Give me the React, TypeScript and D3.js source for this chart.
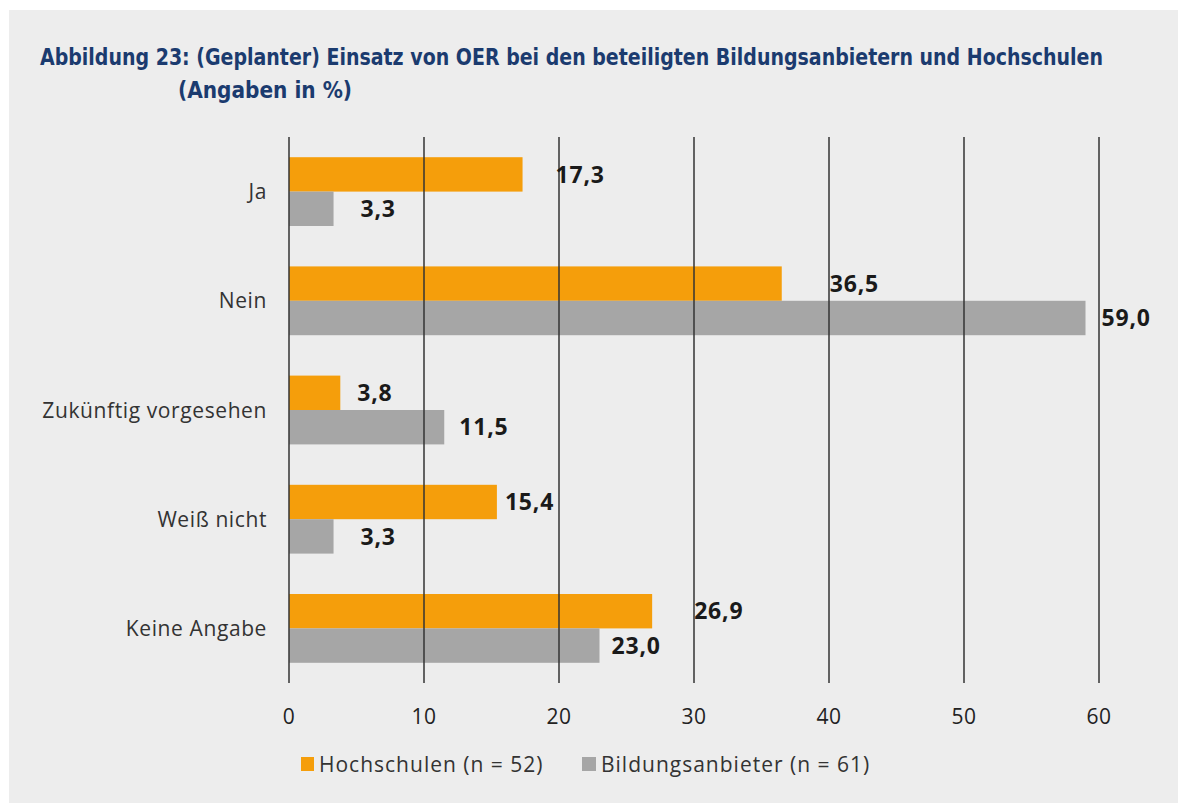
import React from "react";
import * as d3 from "d3";

const categories = ["Ja", "Nein", "Zukünftig vorgesehen", "Weiß nicht", "Keine Angabe"];
const hochschulen = [17.3, 36.5, 3.8, 15.4, 26.9];
const bildungsanbieter = [3.3, 59.0, 11.5, 3.3, 23.0];
const xTicks = [0, 10, 20, 30, 40, 50, 60];
const seriesNames = ["Hochschulen (n = 52)", "Bildungsanbieter (n = 61)"];
const titleLine1 = "Abbildung 23: (Geplanter) Einsatz von OER bei den beteiligten Bildungsanbietern und Hochschulen";
const titleLine2 = "(Angaben in %)";

// label offsets in px (styling, mimicking the original label placement)
const offH = [33, 48, 17, 8, 42];
const offB = [27, 16, 15, 27, 12];

const W = 1178;
const H = 803;
const M = { left: 289, right: 1099, top: 137, bottom: 683 };
const ORANGE = "#f59e0b";
const GRAY = "#a6a6a6";
const BG = "#ededed";
const NAVY = "#1b3b6f";
const fmt = (v: number) => v.toFixed(1).replace(".", ",");

export default function App() {
  const x = d3.scaleLinear().domain([0, 60]).range([M.left, M.right]);
  const y = d3.scaleBand<string>().domain(categories).range([M.top, M.bottom]).paddingInner(0).paddingOuter(0);
  const step = y.step();
  const barH = step * 0.315;
  const series = [
    { name: seriesNames[0], values: hochschulen, color: ORANGE, off: offH },
    { name: seriesNames[1], values: bildungsanbieter, color: GRAY, off: offB },
  ];
  const sans = "'Open Sans', 'Noto Sans', sans-serif";
  return (
    <svg width={W} height={H} style={{ position: "absolute", left: 0, top: 0 }}>
      <rect x={0} y={0} width={W} height={H} fill="#ffffff" />
      <rect x={9} y={10} width={W - 9} height={H - 10} fill={BG} />
      <g fontFamily="'DejaVu Sans', sans-serif" fontStretch="condensed" fontWeight="bold" fill={NAVY} fontSize={23}>
        <text x={40} y={65} textLength={1063} lengthAdjust="spacingAndGlyphs">{titleLine1}</text>
        <text x={178} y={98} textLength={174} lengthAdjust="spacingAndGlyphs">{titleLine2}</text>
      </g>
      {/* bars */}
      {categories.map((c, i) => {
        const cy = (y(c) as number) + step / 2;
        return (
          <g key={c}>
            {series.map((s, j) => {
              const by = cy - barH + j * barH;
              return (
                <rect key={j} x={x(0)} y={by} width={x(s.values[i]) - x(0)} height={barH} fill={s.color} />
              );
            })}
          </g>
        );
      })}
      {/* grid lines */}
      {xTicks.map((t) => (
        <line key={t} x1={x(t)} x2={x(t)} y1={M.top} y2={M.bottom} stroke="#333" strokeWidth={1.5} />
      ))}
      {/* value labels */}
      {categories.map((c, i) => {
        const cy = (y(c) as number) + step / 2;
        return series.map((s, j) => {
          const ly = cy - barH / 2 + j * barH;
          return (
            <text key={c + j} x={x(s.values[i]) + s.off[i]} y={ly} dy="0.36em" fontFamily={sans} fontWeight="bold" fontSize={23} letterSpacing={0.8} fill="#1a1a1a">
              {fmt(s.values[i])}
            </text>
          );
        });
      })}
      {/* category labels */}
      {categories.map((c) => (
        <text key={c} x={267} y={(y(c) as number) + step / 2} dy="0.36em" textAnchor="end" fontFamily={sans} fontSize={21} letterSpacing={0.6} fill="#333">
          {c}
        </text>
      ))}
      {/* tick labels */}
      {xTicks.map((t) => (
        <text key={t} x={x(t)} y={716} dy="0.36em" textAnchor="middle" fontFamily={sans} fontSize={21} letterSpacing={0.4} fill="#222">
          {t}
        </text>
      ))}
      {/* legend */}
      <g fontFamily={sans} fontSize={21} letterSpacing={1} fill="#333">
        <rect x={301} y={757} width={13} height={14} fill={ORANGE} />
        <text x={319} y={764} dy="0.36em">{seriesNames[0]}</text>
        <rect x={582} y={757} width={14} height={14} fill={GRAY} />
        <text x={601} y={764} dy="0.36em">{seriesNames[1]}</text>
      </g>
    </svg>
  );
}
